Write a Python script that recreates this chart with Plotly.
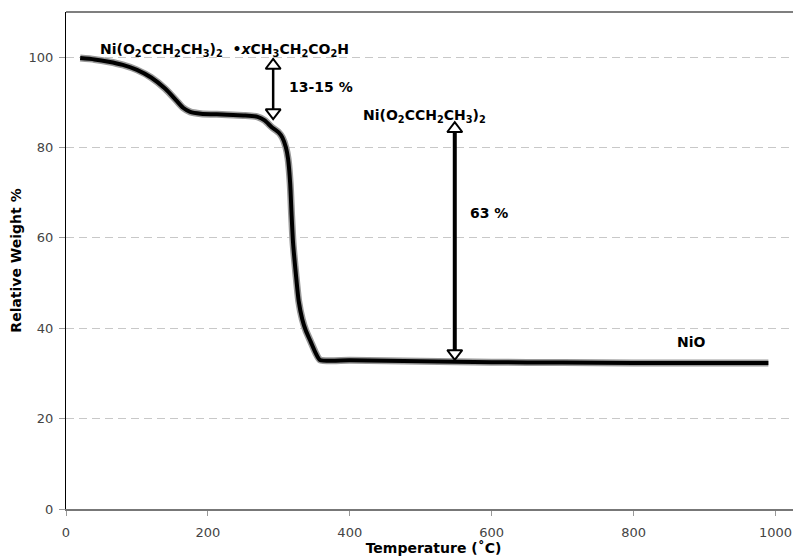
import plotly.graph_objects as go

# TGA curve: temperature (°C) vs relative weight (%)
temperature = [20, 40, 60, 80, 100, 120, 140, 155, 165, 175, 190, 220, 250, 270, 280,
               290, 300, 305, 310, 313, 316, 318, 320, 324, 328, 333, 338, 345, 352, 358,
               400, 500, 600, 700, 800, 900, 990]
weight = [99.8, 99.5, 99.0, 98.3, 97.2, 95.5, 93.0, 90.5, 88.8, 87.9, 87.5, 87.3, 87.1, 86.8, 86.0,
          84.5, 83.3, 82.2, 80.0, 77.5, 72.0, 65.0, 59.0, 52.0, 46.0, 42.0, 39.5, 37.0, 34.5, 33.0,
          32.9, 32.7, 32.5, 32.4, 32.3, 32.3, 32.3]

# Double-headed arrows: x position and (low, high) weight
arrow1_x = 292
arrow1_w = [86.3, 99.6]
arrow2_x = 548
arrow2_w = [33.0, 85.6]

x_ticks = [0, 200, 400, 600, 800, 1000]
y_ticks = [0, 20, 40, 60, 80, 100]
x_range = [0, 1036]
y_range = [0, 110]

FONT = "DejaVu Sans"
# the page body has an 8px margin, so the figure is sized to fill the rest of the window
W_PX, H_PX = 793, 552
M = dict(l=58, r=0, t=4, b=51)
px_per_unit_y = (H_PX - M["t"] - M["b"]) / (y_range[1] - y_range[0])

fig = go.Figure()

# shadow + main curve
fig.add_trace(go.Scatter(x=temperature, y=weight, mode="lines",
                         line=dict(color="#9a9a9a", width=7, shape="spline", smoothing=0.6),
                         hoverinfo="skip", showlegend=False))
fig.add_trace(go.Scatter(x=temperature, y=weight, mode="lines",
                         line=dict(color="black", width=4, shape="spline", smoothing=0.6),
                         showlegend=False))

TRI = 13
off = (TRI / 2) / px_per_unit_y  # distance from tip to marker centre in data units


def add_arrow(x, w, shaft_width):
    lo, hi = w
    fig.add_trace(go.Scatter(x=[x, x], y=[lo + off, hi - off], mode="lines",
                             line=dict(color="black", width=shaft_width),
                             hoverinfo="skip", showlegend=False))
    fig.add_trace(go.Scatter(x=[x, x], y=[hi - off, lo + off], mode="markers",
                             marker=dict(symbol=["triangle-up", "triangle-down"], size=TRI,
                                         color="white", line=dict(color="black", width=2)),
                             hoverinfo="skip", showlegend=False))


add_arrow(arrow1_x, arrow1_w, 2.5)
add_arrow(arrow2_x, arrow2_w, 4)

bold = dict(family=FONT, size=14, color="black")
annotations = [
    dict(x=224, y=101.5,
         text="<b>Ni(O<sub>2</sub>CCH<sub>2</sub>CH<sub>3</sub>)<sub>2</sub>  •<i>x</i>CH<sub>3</sub>CH<sub>2</sub>CO<sub>2</sub>H</b>",
         xanchor="center", yanchor="middle"),
    dict(x=312, y=93.4, text="<b>13-15 %</b>", xanchor="left", yanchor="middle"),
    dict(x=506, y=86.9,
         text="<b>Ni(O<sub>2</sub>CCH<sub>2</sub>CH<sub>3</sub>)<sub>2</sub></b>",
         xanchor="center", yanchor="middle"),
    dict(x=567, y=65.5, text="<b>63 %</b>", xanchor="left", yanchor="middle"),
    dict(x=882, y=36.9, text="<b>NiO</b>", xanchor="center", yanchor="middle"),
]
for a in annotations:
    a.update(xref="x", yref="y", showarrow=False, font=bold)

fig.update_layout(
    width=W_PX, height=H_PX,
    margin=M,
    paper_bgcolor="white", plot_bgcolor="white",
    annotations=annotations,
    shapes=[dict(type="line", xref="paper", yref="paper", x0=0, x1=1, y0=1, y1=1,
                 line=dict(color="black", width=1.2))],
    xaxis=dict(range=x_range, tickvals=x_ticks, ticks="outside", ticklen=5,
               tickcolor="#999", showgrid=False, zeroline=False,
               showline=True, linecolor="#777", linewidth=2,
               tickfont=dict(family=FONT, size=13, color="#444"),
               ticklabelstandoff=5,
               title=dict(text="<b>Temperature (˚C)</b>", standoff=1,
                          font=dict(family=FONT, size=14, color="black"))),
    yaxis=dict(range=y_range, tickvals=y_ticks, ticks="outside", ticklen=6,
               tickcolor="#999", showgrid=True, gridcolor="#c8c8c8", griddash="8px,5px",
               gridwidth=1, zeroline=False,
               showline=True, linecolor="black", linewidth=1.2,
               tickfont=dict(family=FONT, size=13, color="#444"),
               ticklabelstandoff=3,
               title=dict(text="<b>Relative Weight %</b>", standoff=5,
                          font=dict(family=FONT, size=14, color="black"))),
)

fig.write_html("out.html")
